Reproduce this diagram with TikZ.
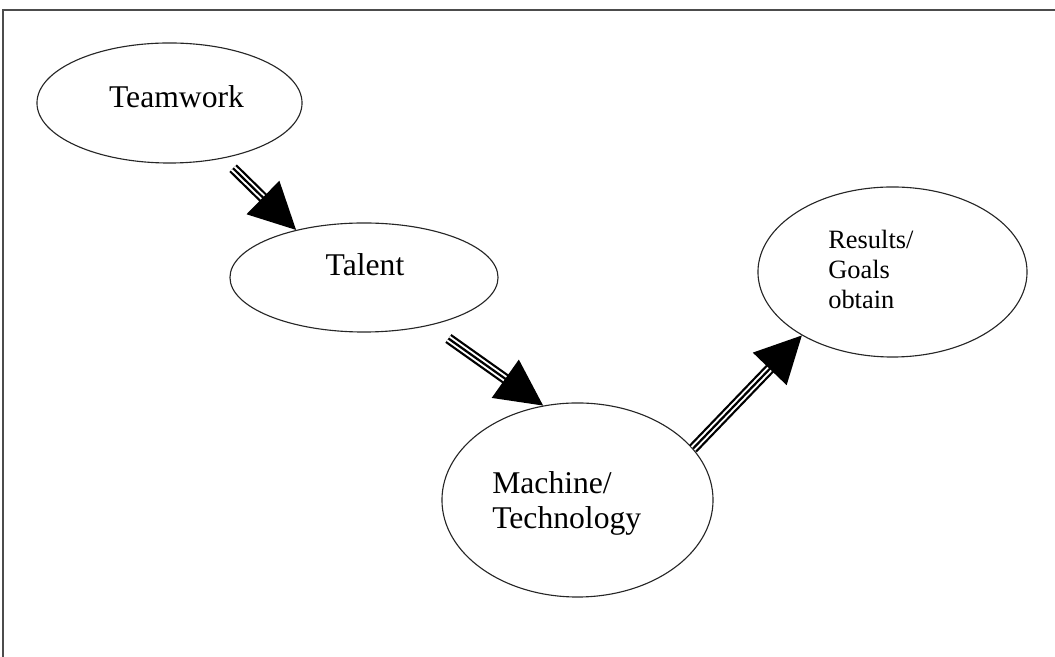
\documentclass[tikz,border=0pt]{standalone}
\usepackage{fontspec}
\setmainfont{Liberation Serif}
\usetikzlibrary{arrows.meta, shapes.geometric}

\begin{document}
\begin{tikzpicture}[x=0.025cm, y=0.025cm,
    n/.style={ellipse, draw=black!85, line width=0.8pt, inner sep=0pt},
    lbl/.style={inner sep=0pt, font=\fontsize{22.5}{25}\selectfont},
    tri/.style={-{Triangle[length=33pt, width=33pt]}, line width=1.6pt,
      preaction={draw, -, line width=7.6pt, shorten >=28pt},
      preaction={draw=white, -, line width=4.4pt, shorten >=28pt}}]
  \useasboundingbox (0,0) rectangle (1055,657);
  \draw[black!70, line width=1pt] (3,0) -- (3,647) -- (1055,647);
  % ellipses
  \node[n, minimum width=6.625cm, minimum height=3cm] (tw) at (169.5,554) {};
  \node[n, minimum width=6.7cm, minimum height=2.725cm] (ta) at (364,379.5) {};
  \node[n, minimum width=6.775cm, minimum height=4.85cm] (mt) at (577.5,157) {};
  \node[n, minimum width=6.725cm, minimum height=4.25cm] (rg) at (892.5,385) {};
  % texts
  \node[lbl] (twt) at (176.5,560.5) {Teamwork};
  \node[lbl] (tat) at (365,392.5) {Talent};
  \node[lbl, anchor=west, align=left] (mtt) at (492,153.5) {Machine/\\Technology};
  \node[lbl, anchor=west, align=left, font=\fontsize{18.8}{21.3}\selectfont] (rgt) at (828,387.5) {Results/\\Goals\\obtain};
  % arrows
  \draw[tri, shorten <=10pt] (tw.-46) -- (ta.145);
  \draw[tri, shorten <=16pt] (ta.-36) -- (mt.110);
  \draw[tri] (mt.24) -- (rg.215);
\end{tikzpicture}
\end{document}
